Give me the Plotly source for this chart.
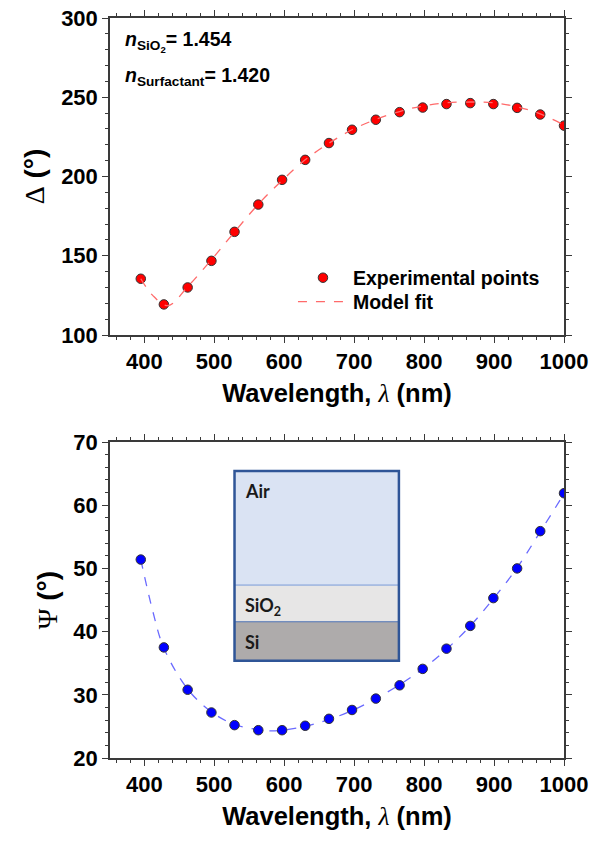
import plotly.graph_objects as go

# ---------------- data ----------------
wavelength = [395, 428, 462, 496, 529, 563, 597, 630, 664, 697,
              731, 765, 798, 832, 866, 899, 933, 966, 1000]
delta_exp = [135.5, 119.3, 130.0, 146.8, 165.1, 182.3, 197.9, 210.5, 221.1, 229.5,
             235.8, 240.6, 243.5, 245.7, 246.3, 245.7, 243.3, 239.1, 232.1]
psi_exp = [51.4, 37.5, 30.8, 27.2, 25.2, 24.4, 24.4, 25.1, 26.2, 27.6,
           29.4, 31.5, 34.1, 37.3, 40.9, 45.3, 50.0, 55.9, 61.9]

fit_delta_wl = [395, 412, 434, 462, 496, 529, 563, 597, 630, 664,
                697, 731, 765, 798, 832, 866, 899, 933, 966, 1000]
fit_delta = [135.5, 125.0, 118.5, 130.5, 147.5, 165.0, 182.5, 197.5, 210.5, 221.0,
             229.5, 236.0, 241.0, 244.5, 246.5, 247.0, 246.5, 244.0, 239.5, 232.5]

fit_psi_wl = [395, 412, 428, 462, 496, 529, 563, 580, 597, 630, 664,
              697, 731, 765, 798, 832, 866, 899, 933, 966, 1000]
fit_psi = [51.4, 43.3, 37.4, 30.9, 27.3, 25.3, 24.5, 24.3, 24.4, 25.0, 26.1,
           27.5, 29.4, 31.6, 34.1, 37.2, 40.9, 45.2, 50.1, 55.8, 61.8]

x_ticks = [400, 500, 600, 700, 800, 900, 1000]
delta_ticks = [100, 150, 200, 250, 300]
psi_ticks = [20, 30, 40, 50, 60, 70]

# ---------------- figure ----------------
SANS = "Arial, Liberation Sans, sans-serif"
AXIS_COLOR = "#3a3a3a"
LEGEND_FONT = dict(family=SANS, size=19.5, color="black", weight="bold")

fig = go.Figure()

fig.add_trace(go.Scatter(
    x=wavelength, y=delta_exp, mode="markers", name="Experimental points",
    marker=dict(color="#ff0000", size=9.5, line=dict(color="#333333", width=1)),
    xaxis="x", yaxis="y", legend="legend"))
fig.add_trace(go.Scatter(
    x=fit_delta_wl, y=fit_delta, mode="lines", name="Model fit",
    line=dict(color="#ff6a6a", width=1.3, dash="dash", shape="spline"),
    xaxis="x", yaxis="y", legend="legend2"))

fig.add_trace(go.Scatter(
    x=fit_psi_wl, y=fit_psi, mode="lines", showlegend=False,
    line=dict(color="#6a6aff", width=1.3, dash="dash", shape="spline"),
    xaxis="x2", yaxis="y2"))
fig.add_trace(go.Scatter(
    x=wavelength, y=psi_exp, mode="markers", showlegend=False,
    marker=dict(color="#0000ff", size=9.5, line=dict(color="#333333", width=1)),
    xaxis="x2", yaxis="y2"))


def xaxis_style(domain_anchor):
    return dict(
        anchor=domain_anchor, range=[351, 1000], tickvals=x_ticks, automargin=False,
        ticks="outside", ticklen=6, tickwidth=1.3, tickcolor=AXIS_COLOR,
        minor=dict(ticks="outside", ticklen=3, dtick=20, tick0=400, tickcolor=AXIS_COLOR),
        showline=True, linecolor=AXIS_COLOR, linewidth=1.5, mirror="ticks",
        showgrid=False, zeroline=False,
        tickfont=dict(family=SANS, size=22, color="black", weight="bold"),
        title=dict(text="Wavelength, <span style='font-family:Liberation Serif;font-weight:normal'><i>λ</i></span> (nm)",
                   font=dict(family=SANS, size=25.5, color="black", weight="bold"),
                   standoff=11),
    )


def yaxis_style(domain, rng, ticks, minor_dt, title):
    return dict(
        domain=domain, range=rng, tickvals=ticks, automargin=False,
        ticks="outside", ticklen=6, tickwidth=1.3, tickcolor=AXIS_COLOR,
        minor=dict(ticks="outside", ticklen=3, dtick=minor_dt, tickcolor=AXIS_COLOR),
        showline=True, linecolor=AXIS_COLOR, linewidth=1.5, mirror="ticks",
        showgrid=False, zeroline=False,
        tickfont=dict(family=SANS, size=22, color="black", weight="bold"),
        title=dict(text=title, font=dict(family=SANS, size=28, color="black"),
                   standoff=8),
    )


fig.update_layout(
    width=601, height=843,
    margin=dict(l=110, r=37, t=18, b=85),
    paper_bgcolor="white", plot_bgcolor="white",
    xaxis=xaxis_style("y"),
    yaxis=yaxis_style([0.5716, 1.0], [100, 300], delta_ticks, 10,
                      "<span style='font-family:Liberation Serif'>Δ</span> <b>(°)</b>"),
    xaxis2=xaxis_style("y2"),
    yaxis2=yaxis_style([0.0, 0.427], [20, 70], psi_ticks, 2,
                       "<span style='font-family:Liberation Serif'>Ψ</span> <b>(°)</b>"),
    showlegend=True,
    legend=dict(x=0.403, y=0.6486, xanchor="left", yanchor="middle",
                bgcolor="rgba(0,0,0,0)", itemwidth=50, font=LEGEND_FONT),
    legend2=dict(x=0.403, y=0.6162, xanchor="left", yanchor="middle",
                 bgcolor="rgba(0,0,0,0)", itemwidth=50, font=LEGEND_FONT),
)

# refractive index annotations
fig.add_annotation(xref="paper", yref="y", x=0.028, y=285, xanchor="left", yanchor="middle",
                   showarrow=False, align="left",
                   text="<i>n</i><sub>SiO<sub>2</sub></sub>= 1.454",
                   font=dict(family=SANS, size=19.5, color="black", weight="bold"))
fig.add_annotation(xref="paper", yref="y", x=0.028, y=263.2, xanchor="left", yanchor="middle",
                   showarrow=False, align="left",
                   text="<i>n</i><sub>Surfactant</sub>= 1.420",
                   font=dict(family=SANS, size=19.5, color="black", weight="bold"))

# layer-stack inset (Air / SiO2 / Si)
box_x0, box_x1 = 529, 764
air_top, air_bot, sio2_bot, si_bot = 65.4, 47.35, 41.55, 35.4
fig.add_shape(type="rect", xref="x2", yref="y2", x0=box_x0, x1=box_x1, y0=air_bot, y1=air_top,
              fillcolor="#dae3f3", line=dict(color="#8faadc", width=1))
fig.add_shape(type="rect", xref="x2", yref="y2", x0=box_x0, x1=box_x1, y0=sio2_bot, y1=air_bot,
              fillcolor="#e7e6e6", line=dict(color="#8faadc", width=1))
fig.add_shape(type="rect", xref="x2", yref="y2", x0=box_x0, x1=box_x1, y0=si_bot, y1=sio2_bot,
              fillcolor="#aeabab", line=dict(color="#5b7bb5", width=1))
fig.add_shape(type="rect", xref="x2", yref="y2", x0=box_x0, x1=box_x1, y0=si_bot, y1=air_top,
              fillcolor="rgba(0,0,0,0)", line=dict(color="#2f5597", width=2.5))

INSET_FONT = dict(family="Lato, Open Sans, sans-serif", size=18, color="#1a1a1a", weight="bold")
for label, yv in [("Air", 62.2), ("SiO<sub>2</sub>", 44.0), ("Si", 38.4)]:
    fig.add_annotation(xref="x2", yref="y2", x=541, y=yv, xanchor="left", yanchor="middle",
                       showarrow=False, text=label, font=INSET_FONT)

fig.write_html("out.html",
               config=dict(displayModeBar=False),
               post_script="document.body.style.margin='0';document.body.style.padding='0';")
